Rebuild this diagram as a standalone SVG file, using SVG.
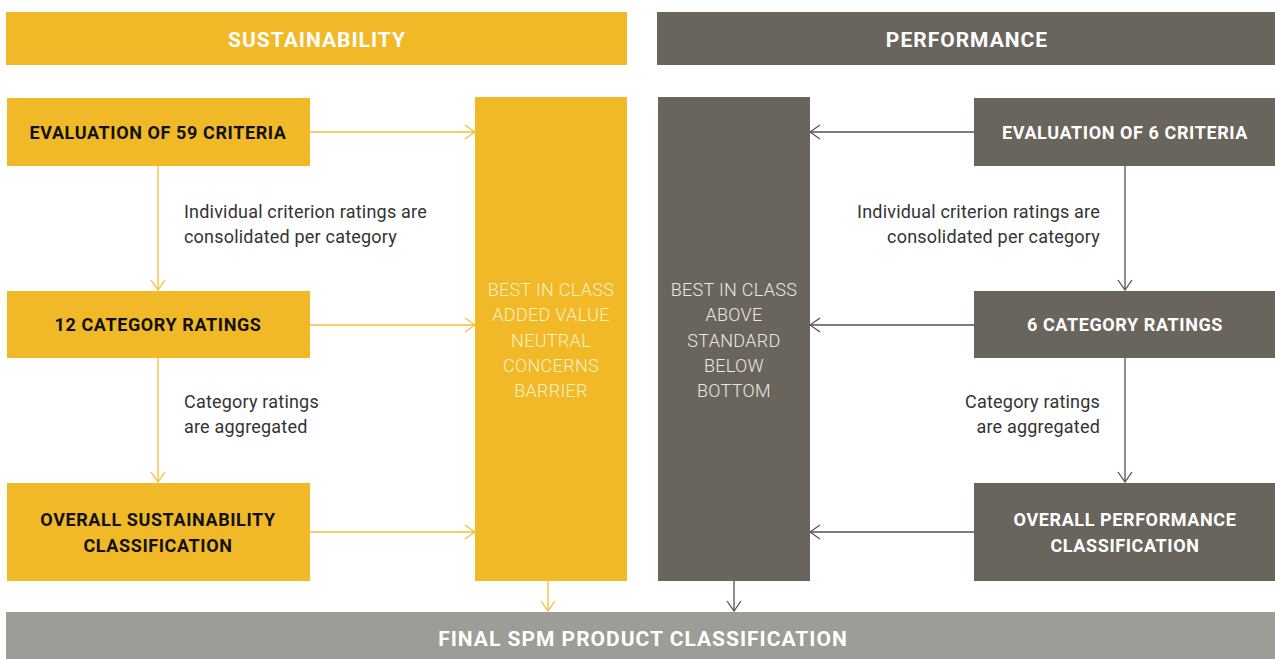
<svg xmlns="http://www.w3.org/2000/svg" width="1275" height="659" viewBox="0 0 1275 659">
<defs>
<style>
.y{fill:#F1B927}
.g{fill:#69655D}
.hdr{font-family:Roboto,"Liberation Sans",sans-serif;font-weight:700;font-size:21px;fill:#FFFFFF;text-anchor:middle;letter-spacing:1px}
.lblk{font-family:Roboto,"Liberation Sans",sans-serif;font-weight:700;font-size:18px;fill:#111111;text-anchor:middle;letter-spacing:0.6px}
.lwht{font-family:Roboto,"Liberation Sans",sans-serif;font-weight:700;font-size:18px;fill:#FFFFFF;text-anchor:middle;letter-spacing:0.6px}
.desc{font-family:Roboto,"Liberation Sans",sans-serif;font-size:18px;fill:#333333;letter-spacing:0.2px}
.lvl{font-family:Roboto,"Liberation Sans",sans-serif;font-weight:300;font-size:18px;text-anchor:middle;letter-spacing:0.3px}
.cy{stroke:#F3BE3A;stroke-width:1.3;fill:none}
.cg{stroke:#55524C;stroke-width:1.3;fill:none}
</style>
<marker id="ay" viewBox="0 0 12 16" markerWidth="12" markerHeight="16" refX="11" refY="8" orient="auto" markerUnits="userSpaceOnUse">
<path d="M1,1 L11,8 L1,15" fill="none" stroke="#F3BE3A" stroke-width="1.3"/>
</marker>
<marker id="ag" viewBox="0 0 12 16" markerWidth="12" markerHeight="16" refX="11" refY="8" orient="auto" markerUnits="userSpaceOnUse">
<path d="M1,1 L11,8 L1,15" fill="none" stroke="#55524C" stroke-width="1.3"/>
</marker>
</defs>
<rect width="1275" height="659" fill="#FFFFFF"/>

<g id="hdr-sustainability"><rect class="y" x="6" y="12" width="621" height="53"/><text class="hdr" x="317" y="47">SUSTAINABILITY</text></g>
<g id="hdr-performance"><rect class="g" x="657" y="12" width="618" height="53"/><text class="hdr" x="967" y="47">PERFORMANCE</text></g>

<g id="s-eval"><rect class="y" x="7" y="98" width="303" height="68"/><text class="lblk" x="158" y="139">EVALUATION OF 59 CRITERIA</text></g>
<g id="s-cat"><rect class="y" x="7" y="291" width="303" height="67"/><text class="lblk" x="158" y="331">12 CATEGORY RATINGS</text></g>
<g id="s-overall"><rect class="y" x="7" y="483" width="303" height="98"/><text class="lblk" x="158" y="526">OVERALL SUSTAINABILITY</text><text class="lblk" x="158" y="552">CLASSIFICATION</text></g>

<g id="s-levels"><rect class="y" x="475" y="97" width="152" height="484"/>
<text class="lvl" fill="#FCEFC9" x="551" y="296">BEST IN CLASS</text>
<text class="lvl" fill="#FCEFC9" x="551" y="321">ADDED VALUE</text>
<text class="lvl" fill="#FCEFC9" x="551" y="347">NEUTRAL</text>
<text class="lvl" fill="#FCEFC9" x="551" y="372">CONCERNS</text>
<text class="lvl" fill="#FCEFC9" x="551" y="397">BARRIER</text></g>

<g id="p-levels"><rect class="g" x="658" y="97" width="152" height="484"/>
<text class="lvl" fill="#EAE8E3" x="734" y="296">BEST IN CLASS</text>
<text class="lvl" fill="#EAE8E3" x="734" y="321">ABOVE</text>
<text class="lvl" fill="#EAE8E3" x="734" y="347">STANDARD</text>
<text class="lvl" fill="#EAE8E3" x="734" y="372">BELOW</text>
<text class="lvl" fill="#EAE8E3" x="734" y="397">BOTTOM</text></g>

<g id="p-eval"><rect class="g" x="974" y="98" width="301" height="68"/><text class="lwht" x="1125" y="139">EVALUATION OF 6 CRITERIA</text></g>
<g id="p-cat"><rect class="g" x="974" y="291" width="301" height="67"/><text class="lwht" x="1125" y="331">6 CATEGORY RATINGS</text></g>
<g id="p-overall"><rect class="g" x="974" y="483" width="301" height="98"/><text class="lwht" x="1125" y="526">OVERALL PERFORMANCE</text><text class="lwht" x="1125" y="552">CLASSIFICATION</text></g>

<g id="final"><rect fill="#9D9D98" x="6" y="612" width="1269" height="47"/><text class="hdr" x="643" y="646">FINAL SPM PRODUCT CLASSIFICATION</text></g>

<g id="notes">
<text class="desc" x="184" y="218">Individual criterion ratings are</text>
<text class="desc" x="184" y="243">consolidated per category</text>
<text class="desc" x="184" y="408">Category ratings</text>
<text class="desc" x="184" y="433">are aggregated</text>
<text class="desc" x="1100" y="218" text-anchor="end">Individual criterion ratings are</text>
<text class="desc" x="1100" y="243" text-anchor="end">consolidated per category</text>
<text class="desc" x="1100" y="408" text-anchor="end">Category ratings</text>
<text class="desc" x="1100" y="433" text-anchor="end">are aggregated</text>
</g>

<g id="connectors">
<line class="cy" x1="310" y1="132" x2="475" y2="132" marker-end="url(#ay)"/>
<line class="cy" x1="310" y1="325" x2="475" y2="325" marker-end="url(#ay)"/>
<line class="cy" x1="310" y1="532" x2="475" y2="532" marker-end="url(#ay)"/>
<line class="cy" x1="158" y1="166" x2="158" y2="290" marker-end="url(#ay)"/>
<line class="cy" x1="158" y1="358" x2="158" y2="482" marker-end="url(#ay)"/>
<line class="cy" x1="548" y1="581" x2="548" y2="611" marker-end="url(#ay)"/>
<line class="cg" x1="974" y1="132" x2="810" y2="132" marker-end="url(#ag)"/>
<line class="cg" x1="974" y1="325" x2="810" y2="325" marker-end="url(#ag)"/>
<line class="cg" x1="974" y1="532" x2="810" y2="532" marker-end="url(#ag)"/>
<line class="cg" x1="1125" y1="166" x2="1125" y2="290" marker-end="url(#ag)"/>
<line class="cg" x1="1125" y1="358" x2="1125" y2="482" marker-end="url(#ag)"/>
<line class="cg" x1="734" y1="581" x2="734" y2="611" marker-end="url(#ag)"/>
</g>
</svg>
